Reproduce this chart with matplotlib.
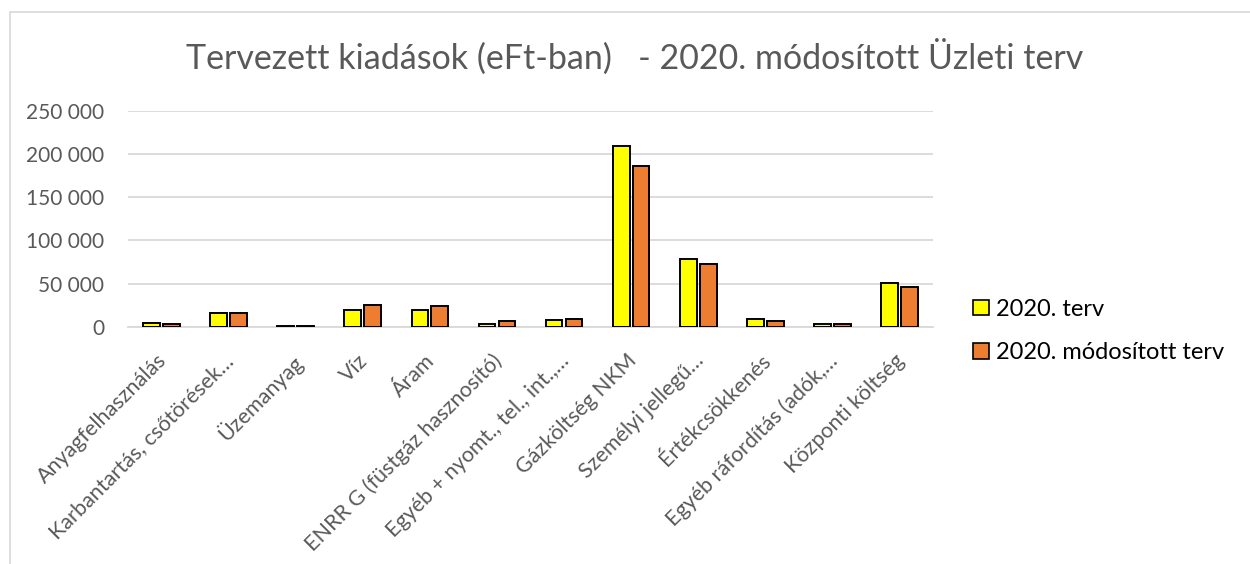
import matplotlib
matplotlib.use("Agg")
import matplotlib.pyplot as plt
import matplotlib.transforms as mtransforms
from matplotlib.patches import Rectangle, Patch
from matplotlib.ticker import FuncFormatter
import numpy as np

# Adatok
kategoriak = ["Anyagfelhasználás", "Karbantartás, csőtörések…", "Üzemanyag", "Víz",
              "Áram", "ENRR G (füstgáz hasznosító)", "Egyéb + nyomt., tel., int.,…",
              "Gázköltség NKM", "Személyi jellegű…", "Értékcsökkenés",
              "Egyéb ráfordítás (adók,…", "Központi költség"]
terv_2020 = [4600, 16200, 1200, 19300, 19300, 3100, 7300, 209800, 78800, 9300, 3100, 50600]
modositott_2020 = [3100, 16200, 1200, 25500, 24000, 6600, 8500, 186200, 72300, 6200, 3100, 46400]
sorozatok = ["2020. terv", "2020. módosított terv"]
szinek = ["#FFFF00", "#ED7D31"]

plt.rcParams['font.family'] = ['Lato', 'DejaVu Sans']

fig = plt.figure(figsize=(12.5, 5.64), dpi=100)
ax = fig.add_axes([0.1024, 0.4207, 0.644, 0.3825])

# keret a diagram korul
fig.patches.append(Rectangle((10 / 1250, -0.1), 1.2, 1 - 12 / 564 + 0.1,
                             transform=fig.transFigure, fill=False,
                             edgecolor="#D9D9D9", linewidth=1.2))

x = np.arange(len(kategoriak))
w = 0.25
ax.bar(x - 0.148, terv_2020, w, color=szinek[0], edgecolor="black", linewidth=1.4, zorder=3)
ax.bar(x + 0.148, modositott_2020, w, color=szinek[1], edgecolor="black", linewidth=1.4, zorder=3)

ax.set_xlim(-0.5, len(kategoriak) - 0.5)
ax.set_ylim(0, 250000)
ax.set_yticks(np.arange(0, 250001, 50000))
ax.yaxis.set_major_formatter(FuncFormatter(lambda v, p: f"{int(v):,}".replace(",", " ")))
ax.grid(axis="y", color="#D9D9D9", linewidth=1.3, zorder=0)
for s in ["top", "right", "left"]:
    ax.spines[s].set_visible(False)
ax.spines["bottom"].set_color("#D9D9D9")
ax.spines["bottom"].set_linewidth(1.3)
ax.tick_params(axis="both", length=0, labelsize=15, labelcolor="#595959")
ax.tick_params(axis="y", pad=17)

ax.set_xticks(x)
ax.set_xticklabels(kategoriak, rotation=45, ha="right", rotation_mode="anchor", fontsize=15.5)
eltolas = mtransforms.ScaledTranslation(-5 / 100, -19 / 100, fig.dpi_scale_trans)
for lbl in ax.get_xticklabels():
    lbl.set_transform(lbl.get_transform() + eltolas)

fig.text(0.508, 1 - 57 / 564, "Tervezett kiadások (eFt-ban)   - 2020. módosított Üzleti terv",
         ha="center", va="center", fontsize=24.5, color="#595959")

kezelok = [Patch(facecolor=c, edgecolor="black", linewidth=1.2) for c in szinek]
fig.legend(kezelok, sorozatok, loc="center left", bbox_to_anchor=(952 / 1250, 1 - 331 / 564),
           frameon=False, fontsize=17, handlelength=0.65, handleheight=0.65,
           handletextpad=0.3, labelspacing=0.95)

fig.savefig("out.png", dpi=100)
